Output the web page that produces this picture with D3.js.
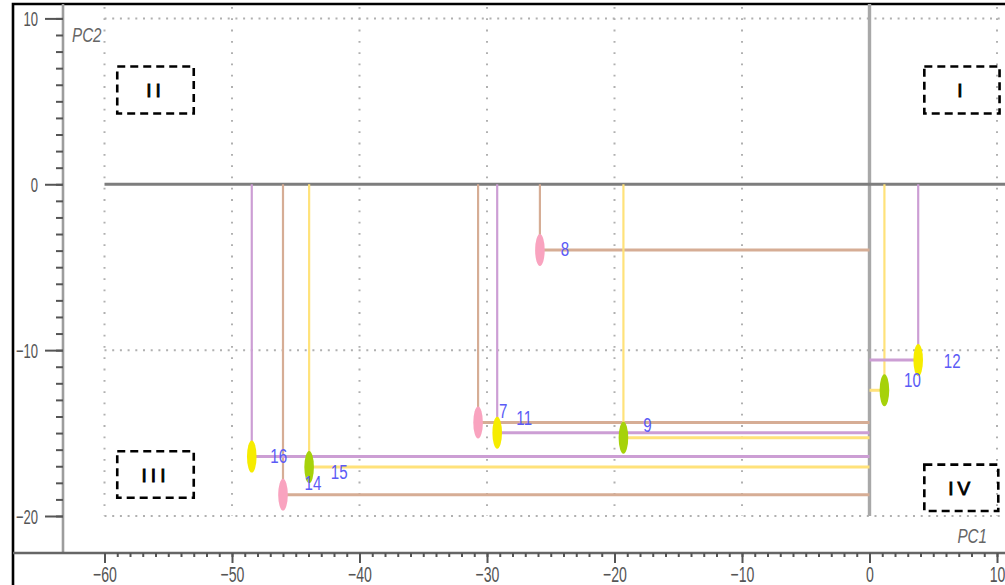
<!DOCTYPE html>
<html>
<head>
<meta charset="utf-8">
<script src="https://cdn.jsdelivr.net/npm/d3@7"></script>
<style>
  html, body { margin: 0; padding: 0; background: #fff; }
  svg { display: block; }
  text { font-family: "Liberation Sans", Arial, sans-serif; }
</style>
</head>
<body>
<svg id="chart" width="1005" height="585"></svg>
<script>
// Sample scores on the first two principal components
const sampleIds = [7, 8, 9, 10, 11, 12, 14, 15, 16];
const pc1Scores = [-30.7, -25.85, -19.3, 1.17, -29.2, 3.82, -46.0, -43.95, -48.45];
const pc2Scores = [-14.36, -3.96, -15.28, -12.42, -14.98, -10.6, -18.72, -17.05, -16.42];
const sampleGroup = ["A", "A", "B", "B", "C", "C", "A", "B", "C"];

// Axis ticks
const xTickValues = [-60, -50, -40, -30, -20, -10, 0, 10];
const yTickValues = [-20, -10, 0, 10];
const quadrantNames = ["I", "II", "III", "IV"];

// Group styling: marker fill and the colour of its projection lines
const groupStyle = {
  A: { fill: "#f9a3bf", line: "#d6ad95" },
  B: { fill: "#a6d20a", line: "#ffe27a" },
  C: { fill: "#f6ec00", line: "#cc9ed4" }
};

const svg = d3.select("#chart");
const x = d3.scaleLinear().domain([-60, 10]).range([104.5, 997]);
const y = d3.scaleLinear().domain([-20, 10]).range([516, 18.4]);

const W = 1005, H = 585;
const axisY = 553, axisX = 63;

// Outer frame (right and bottom edges fall outside the view)
svg.append("path")
  .attr("d", `M13,${H + 5}V4H${W + 5}`)
  .attr("fill", "none").attr("stroke", "#000").attr("stroke-width", 2.6);

// Dotted grid
const grid = svg.append("g").attr("fill", "none").attr("stroke", "#b0b0b0").attr("stroke-width", 2);
xTickValues.filter(v => v !== 0).forEach(v => {
  grid.append("line")
    .attr("x1", x(v)).attr("x2", x(v))
    .attr("y1", 7).attr("y2", y(-20))
    .attr("stroke-dasharray", "1.8,9.5");
});
yTickValues.filter(v => v !== 0).forEach(v => {
  grid.append("line")
    .attr("x1", x(-60)).attr("x2", W)
    .attr("y1", y(v)).attr("y2", y(v))
    .attr("stroke-dasharray", "2,5.7");
});

// Zero lines
svg.append("line")
  .attr("x1", x(0)).attr("x2", x(0)).attr("y1", 4).attr("y2", y(-20))
  .attr("stroke", "#a8a8a8").attr("stroke-width", 3.4);
svg.append("line")
  .attr("x1", x(-60)).attr("x2", W).attr("y1", y(0)).attr("y2", y(0))
  .attr("stroke", "#7d7d7d").attr("stroke-width", 2.8);

// Axis lines
svg.append("line")
  .attr("x1", axisX).attr("x2", axisX).attr("y1", 4).attr("y2", axisY)
  .attr("stroke", "#9d9d9d").attr("stroke-width", 2.6);
svg.append("line")
  .attr("x1", 13).attr("x2", W).attr("y1", axisY).attr("y2", axisY)
  .attr("stroke", "#666").attr("stroke-width", 2.6);

// X axis: minor and major ticks
const xMinor = svg.append("g").attr("transform", `translate(0,${axisY})`)
  .call(d3.axisBottom(x).tickValues(d3.range(-60, 11, 1)).tickSize(4).tickFormat(""));
const xMajor = svg.append("g").attr("transform", `translate(0,${axisY})`)
  .call(d3.axisBottom(x).tickValues(xTickValues).tickSize(10).tickFormat(d3.format("d")));

// Y axis: minor and major ticks
const yMinor = svg.append("g").attr("transform", `translate(${axisX},0)`)
  .call(d3.axisLeft(y).tickValues(d3.range(-20, 11, 1)).tickSize(7).tickFormat(""));
const yMajor = svg.append("g").attr("transform", `translate(${axisX},0)`)
  .call(d3.axisLeft(y).tickValues(yTickValues).tickSize(18).tickFormat(d3.format("d")));

[xMinor, xMajor, yMinor, yMajor].forEach(g => {
  g.select(".domain").remove();
  g.selectAll(".tick line").attr("stroke", "#555").attr("stroke-width", 2);
});
const xScaleText = 0.64, yScaleText = 0.62;
xMajor.selectAll(".tick text")
  .attr("font-size", 22).attr("fill", "#555")
  .attr("y", 13).attr("dy", "0.71em")
  .attr("transform", `scale(${xScaleText},1)`);
yMajor.selectAll(".tick text")
  .attr("font-size", 21).attr("fill", "#555")
  .attr("x", -25 / yScaleText).attr("dy", "0.36em")
  .attr("transform", `scale(${yScaleText},1)`);

// Axis titles
function squeezedText(px, py, str, size, sx, opts = {}) {
  return svg.append("text")
    .attr("transform", `translate(${px},${py}) scale(${sx},1)`)
    .attr("font-size", size)
    .attr("font-style", opts.italic ? "italic" : "normal")
    .attr("text-anchor", opts.anchor || "start")
    .attr("fill", opts.fill || "#000")
    .text(str);
}
squeezedText(72, 42, "PC2", 20, 0.76, { italic: true, fill: "#666" });
squeezedText(987, 543, "PC1", 20, 0.76, { italic: true, fill: "#666", anchor: "end" });

// Quadrant markers (dashed boxes)
const quadrantBoxes = {
  I:   { x0: 4.3,   x1: 10.2,  y0: 7.1,   y1: 4.27 },
  II:  { x0: -59.0, x1: -53.0, y0: 7.1,   y1: 4.27 },
  III: { x0: -59.0, x1: -53.0, y0: -16.1, y1: -18.9 },
  IV:  { x0: 4.3,   x1: 10.1,  y0: -16.9, y1: -19.7 }
};
quadrantNames.forEach(name => {
  const b = quadrantBoxes[name];
  const bx = x(b.x0), by = y(b.y0), bw = x(b.x1) - x(b.x0), bh = y(b.y1) - y(b.y0);
  svg.append("rect")
    .attr("x", bx).attr("y", by).attr("width", bw).attr("height", bh)
    .attr("fill", "none").attr("stroke", "#000").attr("stroke-width", 2.6)
    .attr("stroke-dasharray", "8,5");
  svg.append("text")
    .attr("x", bx + bw / 2).attr("y", by + bh / 2 + 7)
    .attr("text-anchor", "middle").attr("font-size", 19)
    .attr("letter-spacing", 4).attr("fill", "#000")
    .attr("stroke", "#000").attr("stroke-width", 0.9)
    .text(name);
});

// Samples
const samples = sampleIds.map((id, i) => ({
  id, pc1: pc1Scores[i], pc2: pc2Scores[i], group: sampleGroup[i]
}));

// Projection lines to each axis
const proj = svg.append("g").attr("fill", "none");
samples.forEach(d => {
  const c = groupStyle[d.group].line;
  proj.append("line")
    .attr("x1", x(d.pc1)).attr("x2", x(d.pc1))
    .attr("y1", y(0)).attr("y2", y(d.pc2))
    .attr("stroke", c).attr("stroke-width", 2.2);
  proj.append("line")
    .attr("x1", x(d.pc1)).attr("x2", x(0))
    .attr("y1", y(d.pc2)).attr("y2", y(d.pc2))
    .attr("stroke", c).attr("stroke-width", 3);
});

// Markers
svg.append("g").selectAll("ellipse").data(samples).join("ellipse")
  .attr("cx", d => x(d.pc1)).attr("cy", d => y(d.pc2))
  .attr("rx", 4.8).attr("ry", 16)
  .attr("fill", d => groupStyle[d.group].fill);

// Sample labels, nudged so they do not collide
const labelNudge = {
  7: [25, -12], 8: [25, -2], 9: [24, -13], 10: [28, -11], 11: [27, -15],
  12: [34, 0], 14: [30, -12], 15: [30, 4], 16: [27, -1]
};
samples.forEach(d => {
  const [dx, dy] = labelNudge[d.id];
  svg.append("text")
    .attr("transform", `translate(${x(d.pc1) + dx},${y(d.pc2) + dy}) scale(0.72,1)`)
    .attr("text-anchor", "middle").attr("dy", "0.36em")
    .attr("font-size", 21).attr("fill", "#5b5bf6")
    .text(d.id);
});
</script>
</body>
</html>
